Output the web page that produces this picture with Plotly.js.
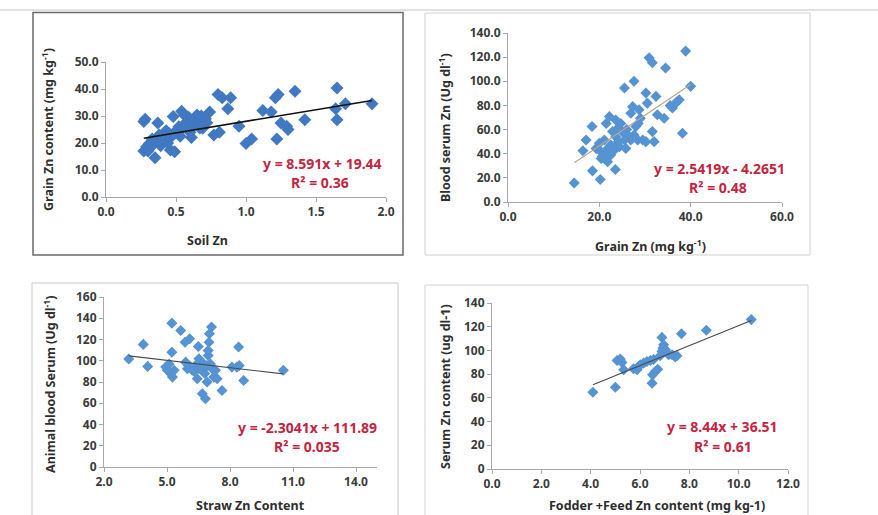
<!DOCTYPE html>
<html>
<head>
<meta charset="utf-8">
<script src="https://cdn.plot.ly/plotly-3.0.1.min.js"></script>
<style>html,body{margin:0;padding:0;background:#fff;}#chart{width:878px;height:515px;}</style>
</head>
<body>
<div id="chart"></div>
<script>
// Panel 1: Soil Zn vs Grain Zn content
const soilZn = [0.28,0.27,0.27,0.29,0.35,0.37,0.31,0.36,0.41,0.43,0.39,0.46,0.49,0.48,0.54,0.56,0.58,0.50,0.55,0.62,0.65,0.61,0.67,0.71,0.74,0.77,0.80,0.83,0.89,0.87,0.81,0.95,1.00,1.04,1.12,1.18,1.21,1.23,1.22,1.25,1.29,1.30,1.35,1.42,1.65,1.64,1.65,1.71,1.90,0.33,0.38,0.42,0.45,0.47,0.52,0.57,0.59,0.63,0.66,0.69,0.72,0.60,0.53,0.44,0.40,0.32,0.30,0.68];
const grainZnContent = [28.8,28.0,17.0,18.6,14.5,27.4,19.8,21.0,22.0,24.5,19.0,17.4,16.8,29.8,31.8,30.4,28.0,24.5,25.6,26.8,30.4,22.0,25.6,29.0,31.5,23.0,38.0,36.8,36.8,32.7,24.0,26.2,19.8,21.5,32.0,31.5,36.8,38.0,21.5,27.4,26.2,25.0,39.2,28.6,40.4,32.7,28.6,34.5,34.5,21.5,23.0,24.0,23.5,22.5,26.0,27.5,29.5,28.5,27.0,25.5,27.5,24.0,22.5,20.0,20.5,18.5,17.0,30.0];

// Panel 2: Grain Zn vs Blood serum Zn
const grainZn = [14.5,18.5,20.2,23.5,16.4,17.1,18.4,20.0,20.4,20.6,21.1,21.5,22.2,21.8,22.9,23.6,24.0,24.4,24.7,25.5,25.5,26.9,26.9,27.3,27.6,28.0,28.7,28.4,29.0,29.5,30.2,30.2,30.5,30.9,31.6,31.6,32.0,32.4,32.7,34.2,34.5,36.0,36.7,37.5,38.2,38.9,40.0,23.6,22.5,23.3,25.0,26.2,23.8,25.8,27.6,21.5,19.3,20.4,22.5,24.2,26.0,28.5,35.5,37.0];
const bloodSerumZn = [15.8,25.8,18.6,27.0,42.5,51.4,62.5,48.6,41.7,37.5,51.4,65.0,70.8,33.3,58.3,54.0,61.0,45.8,65.0,51.4,94.4,51.4,73.6,79.0,100.0,62.5,76.4,51.4,69.4,51.4,50.0,90.3,81.9,119.4,115.3,58.3,50.0,87.5,72.2,69.4,111.0,77.8,81.9,84.7,56.9,125.0,95.8,68.0,47.2,43.0,58.3,55.5,47.2,44.4,55.5,43.0,44.4,36.0,38.9,50.0,60.0,65.0,80.0,83.0];

// Panel 3: Straw Zn content vs Animal blood serum
const strawZn = [3.18,3.87,4.08,4.94,5.02,5.10,5.23,5.23,5.18,5.26,5.34,5.65,5.86,6.08,5.89,5.97,6.13,6.20,6.36,6.49,6.52,6.44,6.68,6.76,6.68,6.83,6.91,6.96,6.96,7.00,7.02,7.12,6.91,7.15,7.23,7.39,7.62,8.09,8.33,8.41,8.44,8.65,10.54,6.52,6.60,6.30,7.31,7.07,6.80,6.00];
const animalSerum = [101.6,115.4,94.7,94.0,91.0,97.0,135.4,108.0,87.8,84.6,91.0,128.5,117.5,120.7,98.7,92.5,94.0,91.0,95.6,113.5,101.9,83.0,91.0,97.0,69.0,64.3,80.0,105.0,109.7,117.5,125.4,131.7,95.6,92.5,84.6,83.0,72.0,94.0,94.0,112.9,95.6,81.5,91.0,92.5,94.0,90.0,91.0,97.0,88.0,96.0];

// Panel 4: Fodder + Feed Zn vs Serum Zn content
const fodderFeedZn = [4.09,5.00,5.07,5.20,5.27,5.34,5.74,5.88,5.95,6.01,6.15,6.28,6.42,6.49,6.51,6.62,6.72,6.82,6.89,6.93,6.89,6.96,7.03,7.16,7.30,7.43,7.50,7.68,8.69,10.51,6.55];
const serumZnContent = [64.8,69.0,91.5,92.7,89.9,83.7,84.5,83.7,86.5,87.9,89.3,90.7,91.5,72.4,79.4,82.3,84.2,95.5,99.2,102.0,111.0,104.8,100.6,96.3,96.3,94.4,95.5,114.0,117.0,126.0,92.4];

// Trend line equations (slope, intercept) and labels
const slopes = [8.591, 2.5419, -2.3041, 8.44];
const intercepts = [19.44, -4.2651, 111.89, 36.51];
const eqLabels = ["y = 8.591x + 19.44", "y = 2.5419x - 4.2651", "y = -2.3041x + 111.89", "y = 8.44x + 36.51"];
const r2Labels = ["R² = 0.36", "R² = 0.48", "R² = 0.035", "R² = 0.61"];

// Tick values
const p1xTicks = [0, 0.5, 1.0, 1.5, 2.0];
const p1yTicks = [0, 10, 20, 30, 40, 50];
const p2xTicks = [0, 20, 40, 60];
const p2yTicks = [0, 20, 40, 60, 80, 100, 120, 140];
const p3xTicks = [2, 5, 8, 11, 14];
const p3yTicks = [0, 20, 40, 60, 80, 100, 120, 140, 160];
const p4xTicks = [0, 2, 4, 6, 8, 10, 12];
const p4yTicks = [0, 20, 40, 60, 80, 100, 120, 140];

const xTitles = ["Soil Zn", "Grain Zn (mg kg<sup>-1</sup>)", "Straw Zn Content", "Fodder +Feed Zn content (mg kg-1)"];
const yTitles = ["Grain Zn content (mg kg<sup>-1</sup>)", "Blood serum Zn (Ug dl<sup>-1</sup>)", "Animal blood Serum (Ug dl<sup>-1</sup>)", "Serum Zn content (ug dl-1)"];

const W = 878, H = 515;
const px = v => v / W;
const py = v => 1 - v / H;

const xs = [soilZn, grainZn, strawZn, fodderFeedZn];
const ys = [grainZnContent, bloodSerumZn, animalSerum, serumZnContent];
const markerColors = ['#4079c2', '#5693d2', '#5693d2', '#5693d2'];
const markerSizes = [10, 8.5, 8.5, 8.5];
const lineColors = ['#111111', '#b9a58f', '#4a4a4a', '#4a4a4a'];
const lineWidths = [1.6, 1.2, 1.1, 1.1];

const traces = [];
for (let i = 0; i < 4; i++) {
  const ax = i === 0 ? '' : String(i + 1);
  traces.push({
    type: 'scatter', mode: 'markers', x: xs[i], y: ys[i],
    xaxis: 'x' + ax, yaxis: 'y' + ax,
    marker: {symbol: 'diamond', size: markerSizes[i], color: markerColors[i], line: {width: 0}},
    hoverinfo: 'x+y'
  });
  const xmin = Math.min(...xs[i]), xmax = Math.max(...xs[i]);
  traces.push({
    type: 'scatter', mode: 'lines',
    x: [xmin, xmax], y: [slopes[i] * xmin + intercepts[i], slopes[i] * xmax + intercepts[i]],
    xaxis: 'x' + ax, yaxis: 'y' + ax,
    line: {color: lineColors[i], width: lineWidths[i]}, hoverinfo: 'skip'
  });
}

const tickFont = {family: 'Noto Sans, Open Sans, sans-serif', size: 12, color: '#3a3a3a', weight: 'bold'};
function axis(domain, range, tickvals, fmt, anchor) {
  return {
    domain: domain, range: range, tickvals: tickvals, tickformat: fmt, anchor: anchor,
    showgrid: false, zeroline: false, showline: true, linecolor: '#a8a8a8', linewidth: 1,
    ticks: 'outside', ticklen: 4, tickcolor: '#a8a8a8', tickfont: tickFont, fixedrange: true
  };
}

const layout = {
  width: W, height: H,
  margin: {l: 0, r: 0, t: 0, b: 0},
  paper_bgcolor: '#ffffff', plot_bgcolor: 'rgba(0,0,0,0)',
  showlegend: false,
  xaxis:  axis([px(106), px(386)], [0, 2], p1xTicks, '.1f', 'y'),
  yaxis:  axis([py(197), py(62)], [0, 50], p1yTicks, '.1f', 'x'),
  xaxis2: axis([px(508), px(782)], [0, 60], p2xTicks, '.1f', 'y2'),
  yaxis2: axis([py(202), py(33)], [0, 140], p2yTicks, '.1f', 'x2'),
  xaxis3: axis([px(104), px(377)], [2, 15], p3xTicks, '.1f', 'y3'),
  yaxis3: axis([py(467), py(297)], [0, 160], p3yTicks, 'd', 'x3'),
  xaxis4: axis([px(492), px(788)], [0, 12], p4xTicks, '.1f', 'y4'),
  yaxis4: axis([py(469), py(303)], [0, 140], p4yTicks, 'd', 'x4'),
  shapes: [
    {type: 'line', xref: 'paper', yref: 'paper', x0: 0, x1: 1, y0: py(10), y1: py(10), line: {color: '#c4c4c4', width: 1}},
    {type: 'rect', xref: 'paper', yref: 'paper', x0: px(33), x1: px(403), y0: py(255), y1: py(12.5), line: {color: '#6a6a6a', width: 1.5}},
    {type: 'rect', xref: 'paper', yref: 'paper', x0: px(425), x1: px(810), y0: py(255), y1: py(13), line: {color: '#d0d0d0', width: 1}},
    {type: 'rect', xref: 'paper', yref: 'paper', x0: px(32), x1: px(398), y0: py(520), y1: py(283), line: {color: '#c8c8c8', width: 1}},
    {type: 'rect', xref: 'paper', yref: 'paper', x0: px(425), x1: px(808), y0: py(520), y1: py(285), line: {color: '#d4d4d4', width: 1}}
  ],
  annotations: []
};

const titleFont = {family: 'Noto Sans, Open Sans, sans-serif', size: 12.5, color: '#2e2e2e', weight: 'bold'};
const eqFont = {family: 'Noto Sans, Open Sans, sans-serif', size: 14, color: '#c4243f', weight: 'bold'};
// x-title positions, y-title positions, equation positions (pixels)
const xTitlePos = [[207, 240], [650, 246], [250, 505], [657, 505]];
const yTitlePos = [[48, 130], [445, 128], [50, 384], [445, 387]];
const eqPos = [[322, 163], [719, 168], [307, 427], [722, 426]];
const r2Pos = [[320, 182], [718, 187], [307, 446], [723, 446]];

for (let i = 0; i < 4; i++) {
  layout.annotations.push({xref: 'paper', yref: 'paper', x: px(xTitlePos[i][0]), y: py(xTitlePos[i][1]), text: xTitles[i], showarrow: false, font: titleFont, xanchor: 'center', yanchor: 'middle'});
  layout.annotations.push({xref: 'paper', yref: 'paper', x: px(yTitlePos[i][0]), y: py(yTitlePos[i][1]), text: yTitles[i], showarrow: false, font: titleFont, textangle: -90, xanchor: 'center', yanchor: 'middle'});
  layout.annotations.push({xref: 'paper', yref: 'paper', x: px(eqPos[i][0]), y: py(eqPos[i][1]), text: eqLabels[i], showarrow: false, font: eqFont, xanchor: 'center', yanchor: 'middle'});
  layout.annotations.push({xref: 'paper', yref: 'paper', x: px(r2Pos[i][0]), y: py(r2Pos[i][1]), text: r2Labels[i], showarrow: false, font: eqFont, xanchor: 'center', yanchor: 'middle'});
}

Plotly.newPlot('chart', traces, layout, {staticPlot: true, displayModeBar: false});
</script>
</body>
</html>
